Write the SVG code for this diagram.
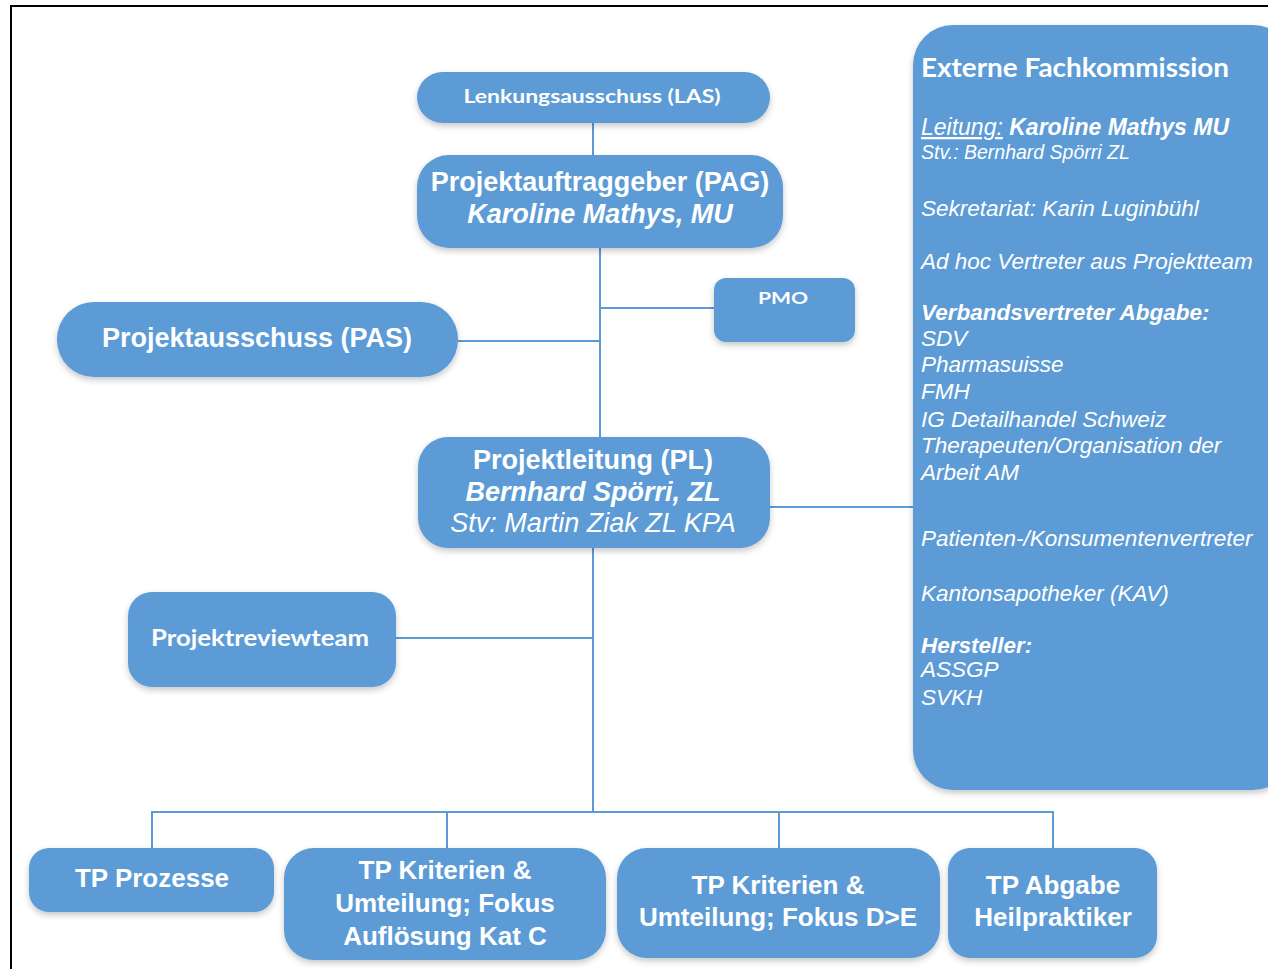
<svg xmlns="http://www.w3.org/2000/svg" width="1268" height="969" viewBox="0 0 1268 969">
  <defs>
    <filter id="shadow" x="-10%" y="-10%" width="120%" height="130%">
      <feDropShadow dx="0" dy="3" stdDeviation="3" flood-color="#000" flood-opacity="0.22"/>
    </filter>
    <style>
      .box { fill: #5B9BD5; filter: url(#shadow); }
      .conn { stroke: #5B9BD5; stroke-width: 2; fill: none; }
      .t { fill: #fff; font-family: "Liberation Sans", Arial, sans-serif; }
      .c { text-anchor: middle; }
      .b { font-weight: bold; }
      .i { font-style: italic; }
      .cal { font-family: Lato, "Liberation Sans", sans-serif; font-weight: bold; }
    </style>
  </defs>

  <rect width="1268" height="969" fill="#fff"/>
  <!-- outer frame -->
  <rect x="11" y="6" width="1300" height="1000" fill="none" stroke="#000" stroke-width="2"/>

  <!-- connectors -->
  <g id="connectors" class="conn">
    <line x1="593" y1="123" x2="593" y2="156"/>
    <line x1="600" y1="248" x2="600" y2="438"/>
    <line x1="600" y1="308" x2="714" y2="308"/>
    <line x1="458" y1="341" x2="600" y2="341"/>
    <line x1="770" y1="507" x2="914" y2="507"/>
    <line x1="593" y1="548" x2="593" y2="812"/>
    <line x1="396" y1="638" x2="593" y2="638"/>
    <polyline points="152,848 152,812 1053,812 1053,848"/>
    <line x1="447" y1="812" x2="447" y2="848"/>
    <line x1="779" y1="812" x2="779" y2="848"/>
  </g>

  <g id="las">
    <rect class="box" x="417" y="72" width="353" height="51" rx="25.5"/>
    <text class="t cal c" x="592" y="103" font-size="19" textLength="257" lengthAdjust="spacingAndGlyphs">Lenkungsausschuss (LAS)</text>
  </g>

  <g id="pag">
    <rect class="box" x="417" y="155" width="366" height="93" rx="32"/>
    <text class="t b c" x="600" y="191" font-size="27">Projektauftraggeber (PAG)</text>
    <text class="t b i c" x="600" y="223" font-size="27">Karoline Mathys, MU</text>
  </g>

  <g id="pmo">
    <rect class="box" x="714" y="278" width="141" height="64" rx="12"/>
    <text class="t cal c" x="783" y="304" font-size="17" textLength="50" lengthAdjust="spacingAndGlyphs">PMO</text>
  </g>

  <g id="pas">
    <rect class="box" x="57" y="302" width="401" height="75" rx="37"/>
    <text class="t b c" x="257" y="347" font-size="27">Projektausschuss (PAS)</text>
  </g>

  <g id="pl">
    <rect class="box" x="418" y="437" width="352" height="111" rx="30"/>
    <text class="t b c" x="593" y="469" font-size="27">Projektleitung (PL)</text>
    <text class="t b i c" x="593" y="501" font-size="27">Bernhard Spörri, ZL</text>
    <text class="t i c" x="593" y="532" font-size="27">Stv: Martin Ziak ZL KPA</text>
  </g>

  <g id="review">
    <rect class="box" x="128" y="592" width="268" height="95" rx="24"/>
    <text class="t cal c" x="260" y="646" font-size="22" textLength="218" lengthAdjust="spacingAndGlyphs">Projektreviewteam</text>
  </g>

  <g id="fachkommission">
    <rect class="box" x="913" y="25" width="380" height="765" rx="40"/>
    <text class="t cal" x="921" y="77" font-size="27" textLength="308" lengthAdjust="spacingAndGlyphs">Externe Fachkommission</text>
    <text class="t i" x="921" y="135" font-size="23"><tspan text-decoration="underline">Leitung:</tspan> <tspan class="b">Karoline Mathys MU</tspan></text>
    <text class="t i" x="921" y="159" font-size="19.5">Stv.: Bernhard Spörri ZL</text>
    <text class="t i" x="921" y="216" font-size="22.5">Sekretariat: Karin Luginbühl</text>
    <text class="t i" x="921" y="269" font-size="22.5">Ad hoc Vertreter aus Projektteam</text>
    <text class="t i b" x="921" y="320" font-size="22.5">Verbandsvertreter Abgabe:</text>
    <text class="t i" x="921" y="346" font-size="22.5">SDV</text>
    <text class="t i" x="921" y="372" font-size="22.5">Pharmasuisse</text>
    <text class="t i" x="921" y="399" font-size="22.5">FMH</text>
    <text class="t i" x="921" y="427" font-size="22.5">IG Detailhandel Schweiz</text>
    <text class="t i" x="921" y="453" font-size="22.5">Therapeuten/Organisation der</text>
    <text class="t i" x="921" y="480" font-size="22.5">Arbeit AM</text>
    <text class="t i" x="921" y="546" font-size="22.5">Patienten-/Konsumentenvertreter</text>
    <text class="t i" x="921" y="601" font-size="22.5">Kantonsapotheker (KAV)</text>
    <text class="t i b" x="921" y="653" font-size="22.5">Hersteller:</text>
    <text class="t i" x="921" y="677" font-size="22.5">ASSGP</text>
    <text class="t i" x="921" y="705" font-size="22.5">SVKH</text>
  </g>

  <g id="tp-prozesse">
    <rect class="box" x="29" y="848" width="245" height="64" rx="20"/>
    <text class="t b c" x="152" y="887" font-size="26">TP Prozesse</text>
  </g>

  <g id="tp-kat-c">
    <rect class="box" x="284" y="848" width="322" height="112" rx="30"/>
    <text class="t b c" x="445" y="879" font-size="26">TP Kriterien &amp;</text>
    <text class="t b c" x="445" y="912" font-size="26">Umteilung; Fokus</text>
    <text class="t b c" x="445" y="945" font-size="26">Auflösung Kat C</text>
  </g>

  <g id="tp-d-e">
    <rect class="box" x="617" y="848" width="323" height="110" rx="30"/>
    <text class="t b c" x="778" y="894" font-size="26">TP Kriterien &amp;</text>
    <text class="t b c" x="778" y="926" font-size="26">Umteilung; Fokus D&gt;E</text>
  </g>

  <g id="tp-heilpraktiker">
    <rect class="box" x="948" y="848" width="209" height="110" rx="22"/>
    <text class="t b c" x="1053" y="894" font-size="26">TP Abgabe</text>
    <text class="t b c" x="1053" y="926" font-size="26">Heilpraktiker</text>
  </g>
</svg>
